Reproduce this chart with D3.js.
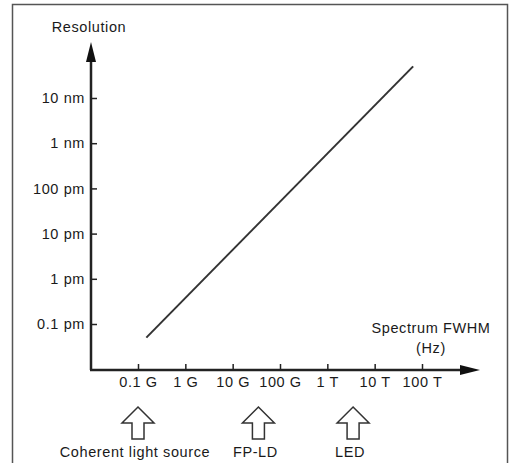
<!DOCTYPE html>
<html>
<head>
<meta charset="utf-8">
<script src="https://cdn.jsdelivr.net/npm/d3@7"></script>
<style>
  body { margin: 0; background: #fff; }
  text { font-family: "Liberation Sans", Arial, sans-serif; font-size: 14.5px; letter-spacing: 0.6px; fill: #1a1a1a; }
</style>
</head>
<body>
<div id="chart"></div>
<script>
// resolution vs spectrum FWHM (log-log)
const fwhmTicks = [1e8, 1e9, 1e10, 1e11, 1e12, 1e13, 1e14];
const fwhmLabels = ["0.1 G", "1 G", "10 G", "100 G", "1 T", "10 T", "100 T"];
const resTicks = [1e-13, 1e-12, 1e-11, 1e-10, 1e-9, 1e-8];
const resLabels = ["0.1 pm", "1 pm", "10 pm", "100 pm", "1 nm", "10 nm"];
const lineHz = [1.5e8, 6.5e13];
const lineRes = [5e-14, 5e-8];
const sourceNames = ["Coherent light source", "FP-LD", "LED"];
const sourceHz = [1e8, 3.5e10, 3.5e12];

const width = 511, height = 463;
const axisX = 91, axisY = 370;

const svg = d3.select("#chart")
    .append("svg")
        .attr("width", width)
        .attr("height", height);

svg.append("rect")
    .attr("x", 12.5).attr("y", 4.5)
    .attr("width", 495).attr("height", 470)
    .attr("fill", "none")
    .attr("stroke", "#555")
    .attr("stroke-width", 1.5);

const x = d3.scaleLog()
    .domain([1e8, 1e14])
    .range([138, 422]);

const y = d3.scaleLog()
    .domain([1e-13, 1e-8])
    .range([324, 98]);

// axis lines with arrow heads
svg.append("line")
    .attr("x1", axisX).attr("y1", axisY)
    .attr("x2", axisX).attr("y2", 58)
    .attr("stroke", "#222").attr("stroke-width", 2.5);
svg.append("path")
    .attr("d", `M${axisX},42 L${axisX - 5},62 L${axisX + 5},62 Z`)
    .attr("fill", "#111");

svg.append("line")
    .attr("x1", axisX - 1).attr("y1", axisY)
    .attr("x2", 464).attr("y2", axisY)
    .attr("stroke", "#222").attr("stroke-width", 2.5);
svg.append("path")
    .attr("d", `M480,${axisY} L460,${axisY - 5} L460,${axisY + 5} Z`)
    .attr("fill", "#111");

const yAxis = svg.append("g")
    .attr("transform", `translate(${axisX}, 0)`)
    .call(d3.axisLeft(y)
        .tickValues(resTicks)
        .tickFormat((d, i) => resLabels[i])
        .tickSizeInner(-6)
        .tickSizeOuter(0)
        .tickPadding(6));
yAxis.select(".domain").remove();
yAxis.selectAll("line").attr("stroke", "#222").attr("stroke-width", 1.5);
yAxis.selectAll("text").attr("fill", "#1a1a1a");
yAxis.attr("font-size", null).attr("font-family", null);

const xAxis = svg.append("g")
    .attr("transform", `translate(0, ${axisY})`)
    .call(d3.axisBottom(x)
        .tickValues(fwhmTicks)
        .tickFormat((d, i) => fwhmLabels[i])
        .tickSizeInner(-6)
        .tickSizeOuter(0)
        .tickPadding(7));
xAxis.select(".domain").remove();
xAxis.selectAll("line").attr("stroke", "#222").attr("stroke-width", 1.5);
xAxis.selectAll("text").attr("fill", "#1a1a1a");
xAxis.attr("font-size", null).attr("font-family", null);

// axis titles
svg.append("text")
    .attr("x", 89).attr("y", 32)
    .attr("text-anchor", "middle")
    .text("Resolution");

svg.append("text")
    .attr("x", 431).attr("y", 333)
    .attr("text-anchor", "middle")
    .text("Spectrum FWHM");
svg.append("text")
    .attr("x", 431).attr("y", 353)
    .attr("text-anchor", "middle")
    .text("(Hz)");

// the trend line
const line = d3.line()
    .x(d => x(d[0]))
    .y(d => y(d[1]));

svg.append("path")
    .datum(d3.zip(lineHz, lineRes))
    .attr("fill", "none")
    .attr("stroke", "#333")
    .attr("stroke-width", 2)
    .attr("d", line);

// hollow arrows for light sources
const arrow = cx => `M${cx},407 L${cx + 16},423 L${cx + 6},423 L${cx + 6},439 ` +
    `L${cx - 6},439 L${cx - 6},423 L${cx - 16},423 Z`;

const sources = svg.selectAll(".source")
    .data(d3.zip(sourceNames, sourceHz))
    .join("g")
        .attr("class", "source");

sources.append("path")
    .attr("d", d => arrow(x(d[1])))
    .attr("fill", "#fff")
    .attr("stroke", "#333")
    .attr("stroke-width", 1.5);

sources.append("text")
    .attr("x", d => x(d[1]) - 3)
    .attr("y", 457)
    .attr("text-anchor", "middle")
    .text(d => d[0]);
</script>
</body>
</html>
